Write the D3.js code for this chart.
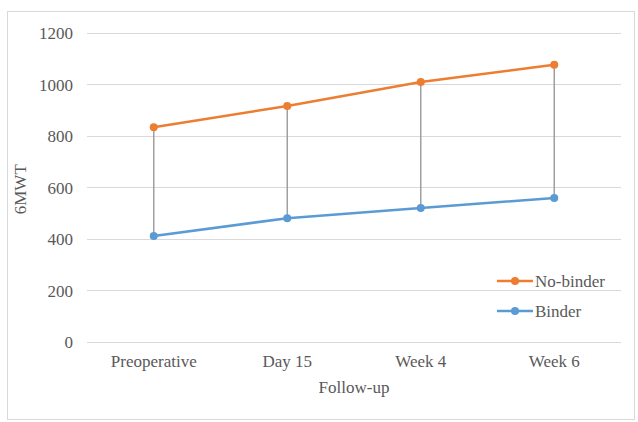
<!DOCTYPE html>
<html>
<head>
<meta charset="utf-8">
<script src="https://cdn.jsdelivr.net/npm/d3@7"></script>
<style>
  html, body { margin: 0; padding: 0; background: #fff; }
  svg { display: block; }
</style>
</head>
<body>
<svg id="chart" width="638" height="422"></svg>
<script>
// 6MWT at each follow-up visit, by group
const categories = ["Preoperative", "Day 15", "Week 4", "Week 6"];
const noBinder = [833, 915, 1008, 1075];
const binder = [411, 480, 520, 558];
const yTicks = [0, 200, 400, 600, 800, 1000, 1200];
const seriesNames = ["No-binder", "Binder"];
const seriesColors = ["#ED7D31", "#5B9BD5"];

const FONT = "'Liberation Serif', 'Times New Roman', serif";
const FS = 17;
const TEXT = "#595959";

const svg = d3.select("#chart");

// outer chart frame
svg.append("rect")
  .attr("x", 7.5).attr("y", 11.5)
  .attr("width", 627).attr("height", 408)
  .attr("fill", "#fff").attr("stroke", "#d9d9d9").attr("stroke-width", 1);

const plot = { left: 87, right: 621, top: 32.5, bottom: 342 };

const x = d3.scaleBand().domain(categories).range([plot.left, plot.right]).padding(0);
const y = d3.scaleLinear().domain([0, 1200]).range([plot.bottom, plot.top]);
const cx = c => x(c) + x.bandwidth() / 2;

function styleText(sel) {
  return sel.style("font-family", FONT).style("font-size", FS + "px").style("fill", TEXT);
}

// horizontal gridlines
svg.append("g").selectAll("line").data(yTicks).join("line")
  .attr("x1", plot.left).attr("x2", plot.right)
  .attr("y1", d => Math.round(y(d)) + 0.5).attr("y2", d => Math.round(y(d)) + 0.5)
  .attr("stroke", "#d9d9d9").attr("stroke-width", 1);

// y axis labels
const yAxis = d3.axisLeft(y).tickValues(yTicks).tickFormat(d3.format("d")).tickSize(0).tickPadding(0);
const gy = svg.append("g").attr("transform", `translate(${plot.left - 14},0)`).call(yAxis);
gy.select(".domain").remove();
styleText(gy.selectAll("text")).attr("dy", "0.35em");

// x axis labels
const xAxis = d3.axisBottom(x).tickSize(0).tickPadding(0);
const gx = svg.append("g").attr("transform", `translate(0,${plot.bottom + 13})`).call(xAxis);
gx.select(".domain").remove();
styleText(gx.selectAll("text")).attr("dy", "0.71em");

// axis titles
styleText(svg.append("text")
  .attr("x", (plot.left + plot.right) / 2).attr("y", 393)
  .attr("text-anchor", "middle"))
  .text("Follow-up");
styleText(svg.append("text")
  .attr("transform", `translate(26,${(plot.top + plot.bottom) / 2 + 2}) rotate(-90)`)
  .attr("text-anchor", "middle"))
  .text("6MWT");

// high-low drop lines between the two groups
svg.append("g").selectAll("line").data(categories).join("line")
  .attr("x1", d => cx(d)).attr("x2", d => cx(d))
  .attr("y1", (d, i) => y(noBinder[i])).attr("y2", (d, i) => y(binder[i]))
  .attr("stroke", "#a0a0a0").attr("stroke-width", 1.5);

// series lines and markers
const seriesData = [noBinder, binder];
const line = d3.line().x((d, i) => cx(categories[i])).y(d => y(d));
seriesData.forEach((vals, s) => {
  svg.append("path").datum(vals)
    .attr("d", line).attr("fill", "none")
    .attr("stroke", seriesColors[s]).attr("stroke-width", 2.5)
    .attr("stroke-linejoin", "round");
  svg.append("g").selectAll("circle").data(vals).join("circle")
    .attr("cx", (d, i) => cx(categories[i])).attr("cy", d => y(d))
    .attr("r", 4).attr("fill", seriesColors[s]);
});

// legend
const legend = svg.append("g");
seriesNames.forEach((name, s) => {
  const ly = 281 + s * 30;
  legend.append("line")
    .attr("x1", 497).attr("x2", 533).attr("y1", ly).attr("y2", ly)
    .attr("stroke", seriesColors[s]).attr("stroke-width", 2.5);
  legend.append("circle").attr("cx", 515).attr("cy", ly).attr("r", 4).attr("fill", seriesColors[s]);
  styleText(legend.append("text").attr("x", 535).attr("y", ly).attr("dy", "0.35em"))
    .text(name);
});
</script>
</body>
</html>
